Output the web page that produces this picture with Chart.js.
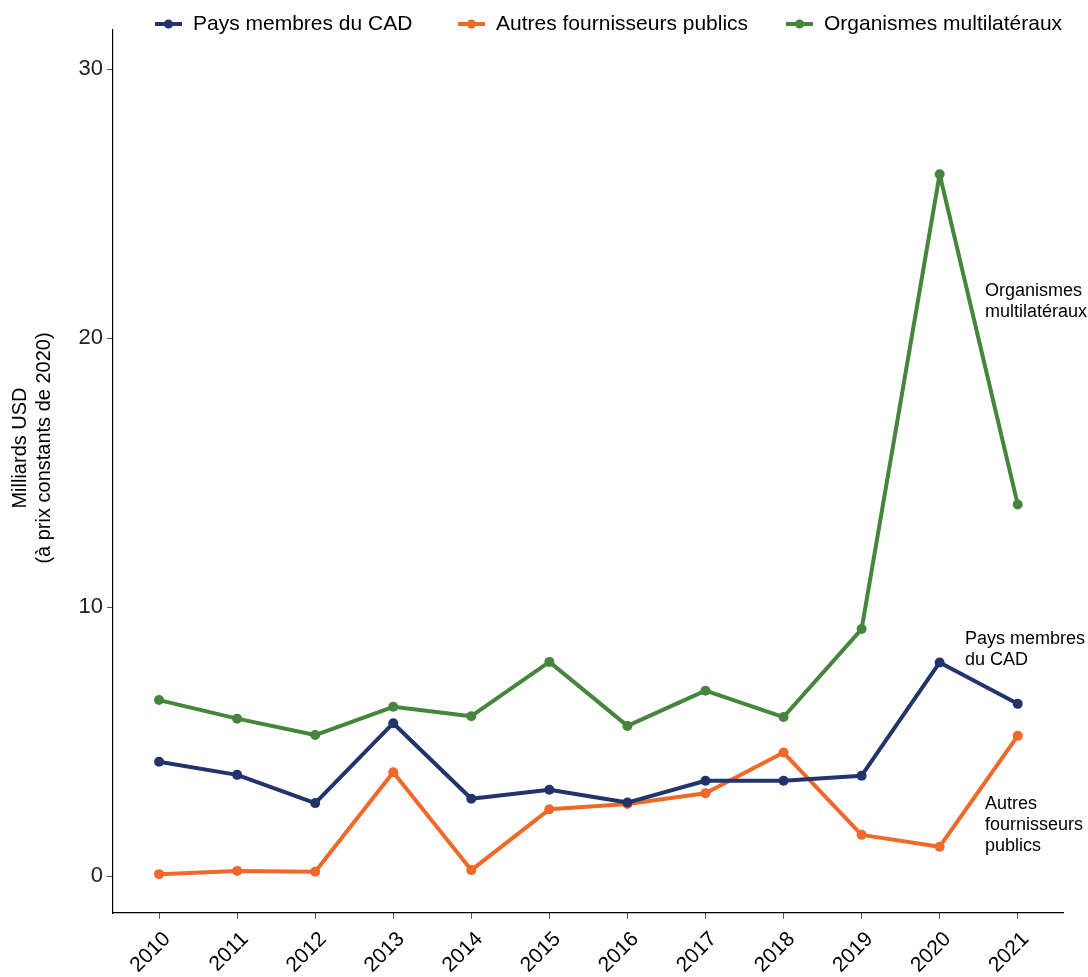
<!DOCTYPE html>
<html>
<head>
<meta charset="utf-8">
<script src="https://cdn.jsdelivr.net/npm/chart.js@4/dist/chart.umd.min.js"></script>
<style>
  html, body { margin: 0; padding: 0; background: #fff; }
  #wrap { width: 1088px; height: 977px; position: relative; }
</style>
</head>
<body>
<div id="wrap"><canvas id="chart"></canvas></div>
<script>
// Data (USD billions, constant 2020 prices)
const years = [2010, 2011, 2012, 2013, 2014, 2015, 2016, 2017, 2018, 2019, 2020, 2021];
const dacMembers = [4.25, 3.76, 2.71, 5.68, 2.87, 3.21, 2.73, 3.54, 3.54, 3.73, 7.94, 6.40];
const otherOfficial = [0.07, 0.19, 0.16, 3.86, 0.22, 2.48, 2.68, 3.08, 4.59, 1.53, 1.09, 5.21];
const multilateral = [6.54, 5.85, 5.24, 6.29, 5.94, 7.96, 5.58, 6.89, 5.91, 9.18, 26.09, 13.81];
const yTicks = [0, 10, 20, 30];

const seriesNames = ['Pays membres du CAD', 'Autres fournisseurs publics', 'Organismes multilatéraux'];
const seriesColors = ['#22346b', '#f0682a', '#45853c'];
const yTitle = ['Milliards USD', '(à prix constants de 2020)'];

// End-of-line labels (text lines, x, y of first line)
const endLabels = [
    { lines: ['Organismes', 'multilatéraux'], x: 985, y: 291 },
    { lines: ['Pays membres', 'du CAD'], x: 965, y: 639 },
    { lines: ['Autres', 'fournisseurs', 'publics'], x: 985, y: 804 }
];

const FONT = '"Liberation Sans", Arial, sans-serif';

function toPoints(values) {
    return values.map((v, i) => ({ x: years[i], y: v }));
}

const datasets = [dacMembers, otherOfficial, multilateral].map((vals, i) => ({
    label: seriesNames[i],
    data: toPoints(vals),
    borderColor: seriesColors[i],
    backgroundColor: seriesColors[i],
    borderWidth: 4,
    borderJoinStyle: 'round',
    borderCapStyle: 'round',
    pointRadius: 5,
    pointHoverRadius: 5,
    pointBorderWidth: 0,
    tension: 0
}));

// Legend, axis title and line labels drawn by hand
const textPlugin = {
    id: 'textPlugin',
    afterDraw(chart) {
        const c = chart.ctx;
        c.save();
        // legend
        const legendX = [155, 458, 786];
        c.font = '21px ' + FONT;
        c.textBaseline = 'middle';
        c.textAlign = 'left';
        seriesNames.forEach((name, i) => {
            const x = legendX[i], y = 24;
            c.strokeStyle = seriesColors[i];
            c.fillStyle = seriesColors[i];
            c.lineWidth = 4;
            c.beginPath();
            c.moveTo(x, y);
            c.lineTo(x + 27, y);
            c.stroke();
            c.beginPath();
            c.arc(x + 13.5, y, 4.5, 0, Math.PI * 2);
            c.fill();
            c.fillStyle = '#000';
            c.fillText(name, x + 38, y);
        });
        // end labels
        c.font = '18px ' + FONT;
        c.fillStyle = '#000';
        endLabels.forEach(l => {
            l.lines.forEach((t, k) => c.fillText(t, l.x, l.y + k * 21));
        });
        // y axis title
        c.font = '20px ' + FONT;
        c.textAlign = 'center';
        c.translate(20, 448);
        c.rotate(-Math.PI / 2);
        yTitle.forEach((t, k) => c.fillText(t, 0, k * 24));
        c.restore();
    }
};

new Chart(document.getElementById('chart'), {
    type: 'line',
    data: { datasets: datasets },
    options: {
        responsive: true,
        maintainAspectRatio: false,
        animation: false,
        layout: { padding: { top: 30, right: 25, left: 0, bottom: 0 } },
        plugins: {
            legend: { display: false },
            tooltip: { enabled: false }
        },
        scales: {
            x: {
                type: 'linear',
                min: 2009.41,
                max: 2021.58,
                afterBuildTicks: scale => { scale.ticks = years.map(v => ({ value: v })); },
                afterFit: scale => { scale.height = 64; },
                border: { display: true, color: '#000', width: 1.2 },
                grid: { drawOnChartArea: false, drawTicks: true, tickLength: 6, color: '#555' },
                ticks: {
                    autoSkip: false,
                    maxRotation: 45,
                    minRotation: 45,
                    padding: 8,
                    labelOffset: 8,
                    color: '#000',
                    font: { family: FONT, size: 21 },
                    callback: v => String(v)
                }
            },
            y: {
                min: -1.375,
                max: 31.45,
                afterBuildTicks: scale => { scale.ticks = yTicks.map(v => ({ value: v })); },
                afterFit: scale => { scale.width = 113; },
                border: { display: true, color: '#000', width: 1.2 },
                grid: { drawOnChartArea: false, drawTicks: true, tickLength: 6, color: '#555' },
                ticks: {
                    padding: 4,
                    color: '#222',
                    font: { family: FONT, size: 22 }
                }
            }
        }
    },
    plugins: [textPlugin]
});
</script>
</body>
</html>
